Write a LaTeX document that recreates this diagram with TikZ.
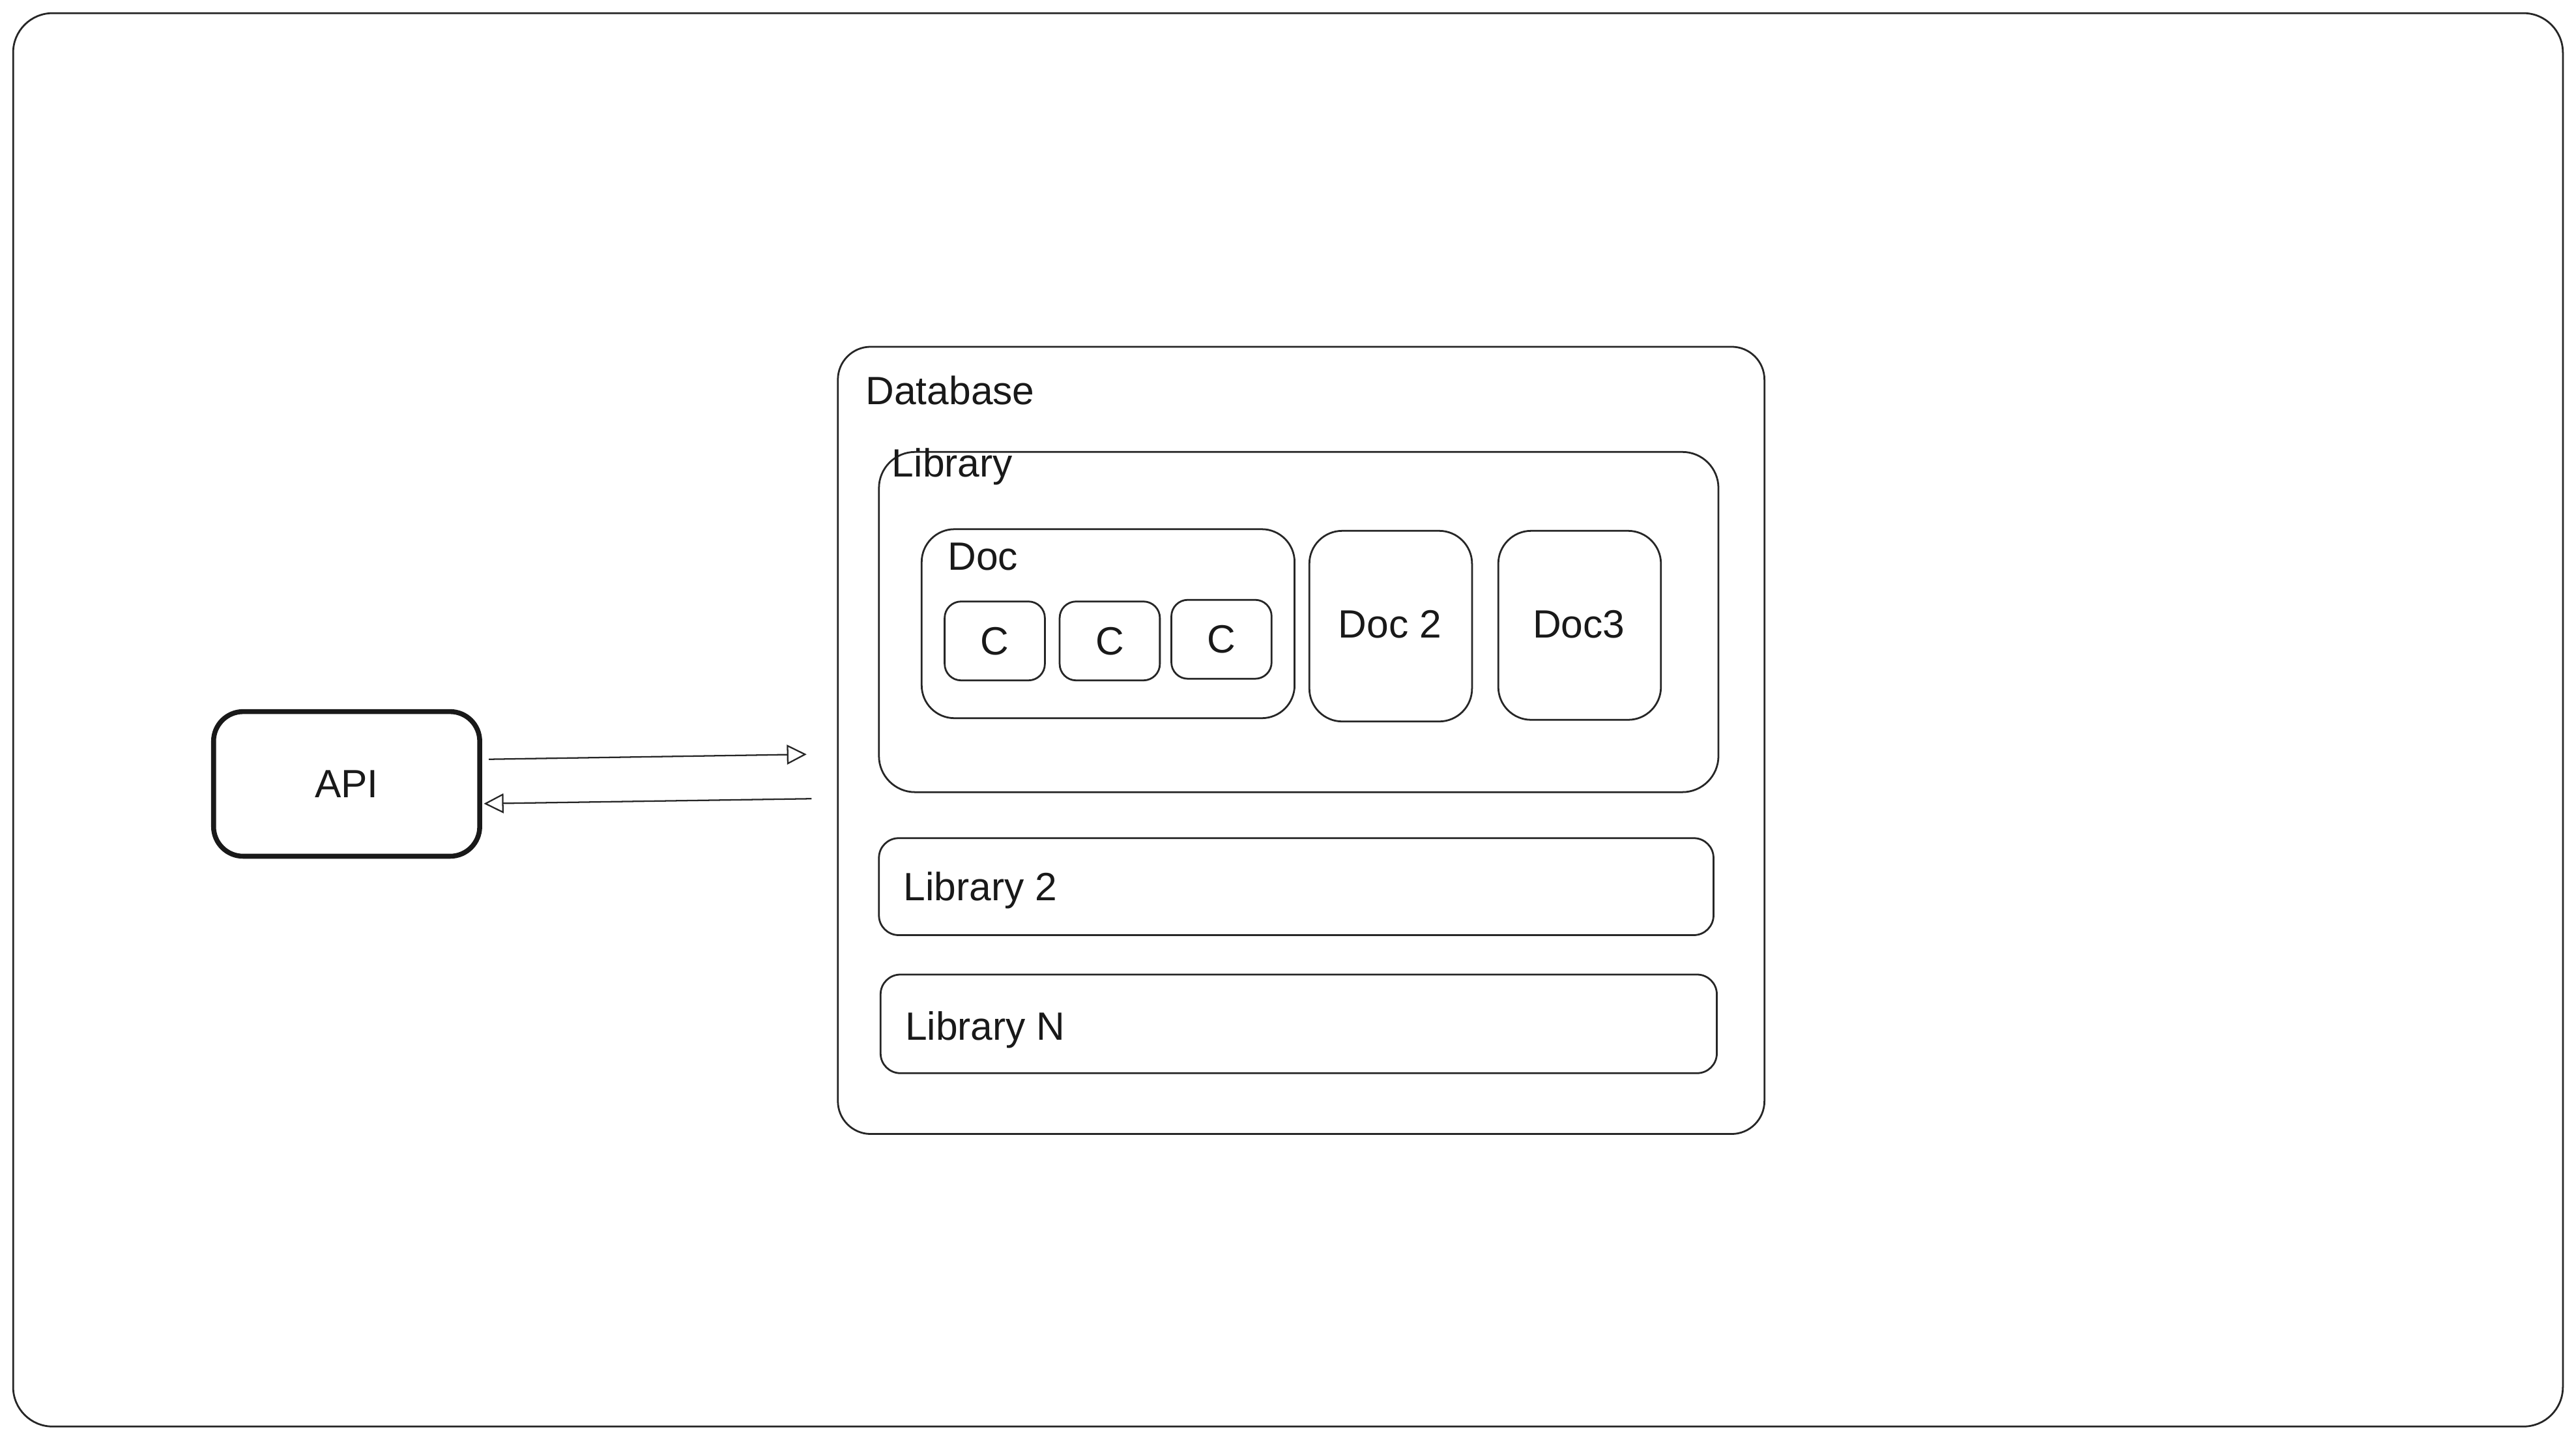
\documentclass[tikz,border=0pt]{standalone}
\usepackage{fontspec}
\setmainfont{Liberation Sans}
\usetikzlibrary{arrows.meta,calc}
\begin{document}
\begin{tikzpicture}[x=1pt,y=-1pt,
  box/.style={draw=black!85, line width=1.1pt, rounded corners=#1, inner sep=0pt, outer sep=0pt, fill=none},
  box/.default=20pt,
  lbl/.style={inner sep=0pt, outer sep=0pt, text=black!90, font=\fontsize{24}{28}\selectfont},
  arr/.style={draw=black!85, line width=0.9pt, -{Triangle[open,length=12pt,width=12pt]}}
]
\useasboundingbox (0,0) rectangle (1568,876);
\fill[white] (0,0) rectangle (1568,876);
% outer frame
\node[box=24pt, minimum width=1552pt, minimum height=860pt] (frame) at (784,438) {};
% database
\node[box=20pt, minimum width=564pt, minimum height=479pt] (db) at (792,450.5) {};
\node[lbl, anchor=base west] (dbl) at (527,246) {Database};
% library
\node[box=22pt, minimum width=511pt, minimum height=207pt] (lib) at (790.5,378.5) {};
\node[lbl, anchor=base west] (libl) at (543,290) {Library};
% doc
\node[box=20pt, minimum width=227pt, minimum height=115pt] (doc) at (674.5,379.5) {};
\node[lbl, anchor=base west] (docl) at (577,347) {Doc};
% chunks
\node[box=10pt, minimum width=61pt, minimum height=48pt] (c1) at (605.5,390) {};
\node[box=10pt, minimum width=61pt, minimum height=48pt] (c2) at (675.5,390) {};
\node[box=10pt, minimum width=61pt, minimum height=48pt] (c3) at (743.5,389) {};
\node[lbl] (c1l) at (c1) {C};
\node[lbl] (c2l) at (c2) {C};
\node[lbl] (c3l) at (c3) {C};
% doc 2, doc3
\node[box=20pt, minimum width=99pt, minimum height=116pt] (doc2) at (846.5,381) {};
\node[lbl] (doc2l) at (846,380) {Doc 2};
\node[box=20pt, minimum width=99pt, minimum height=115pt] (doc3) at (961.5,380.5) {};
\node[lbl] (doc3l) at (961,380) {Doc3};
% library 2, N
\node[box=12pt, minimum width=508pt, minimum height=59pt] (lib2) at (789,539.5) {};
\node[lbl, anchor=base west] (lib2l) at (550,548) {Library 2};
\node[box=12pt, minimum width=509pt, minimum height=60pt] (libn) at (790.5,623) {};
\node[lbl, anchor=base west] (libnl) at (551,633) {Library N};
% API
\node[draw=black!90, line width=3pt, rounded corners=18pt, minimum width=162pt, minimum height=88pt, inner sep=0pt] (api) at (211,477) {};
\node[lbl] (apil) at (api) {API};
% arrows
\draw[arr] ($(api.east)+(4,-15)$) -- ($(db.west)+(-19,8.5)$);
\draw[arr] ($(db.west)+(-16,35.5)$) -- ($(api.east)+(1,12)$);
\end{tikzpicture}
\end{document}
